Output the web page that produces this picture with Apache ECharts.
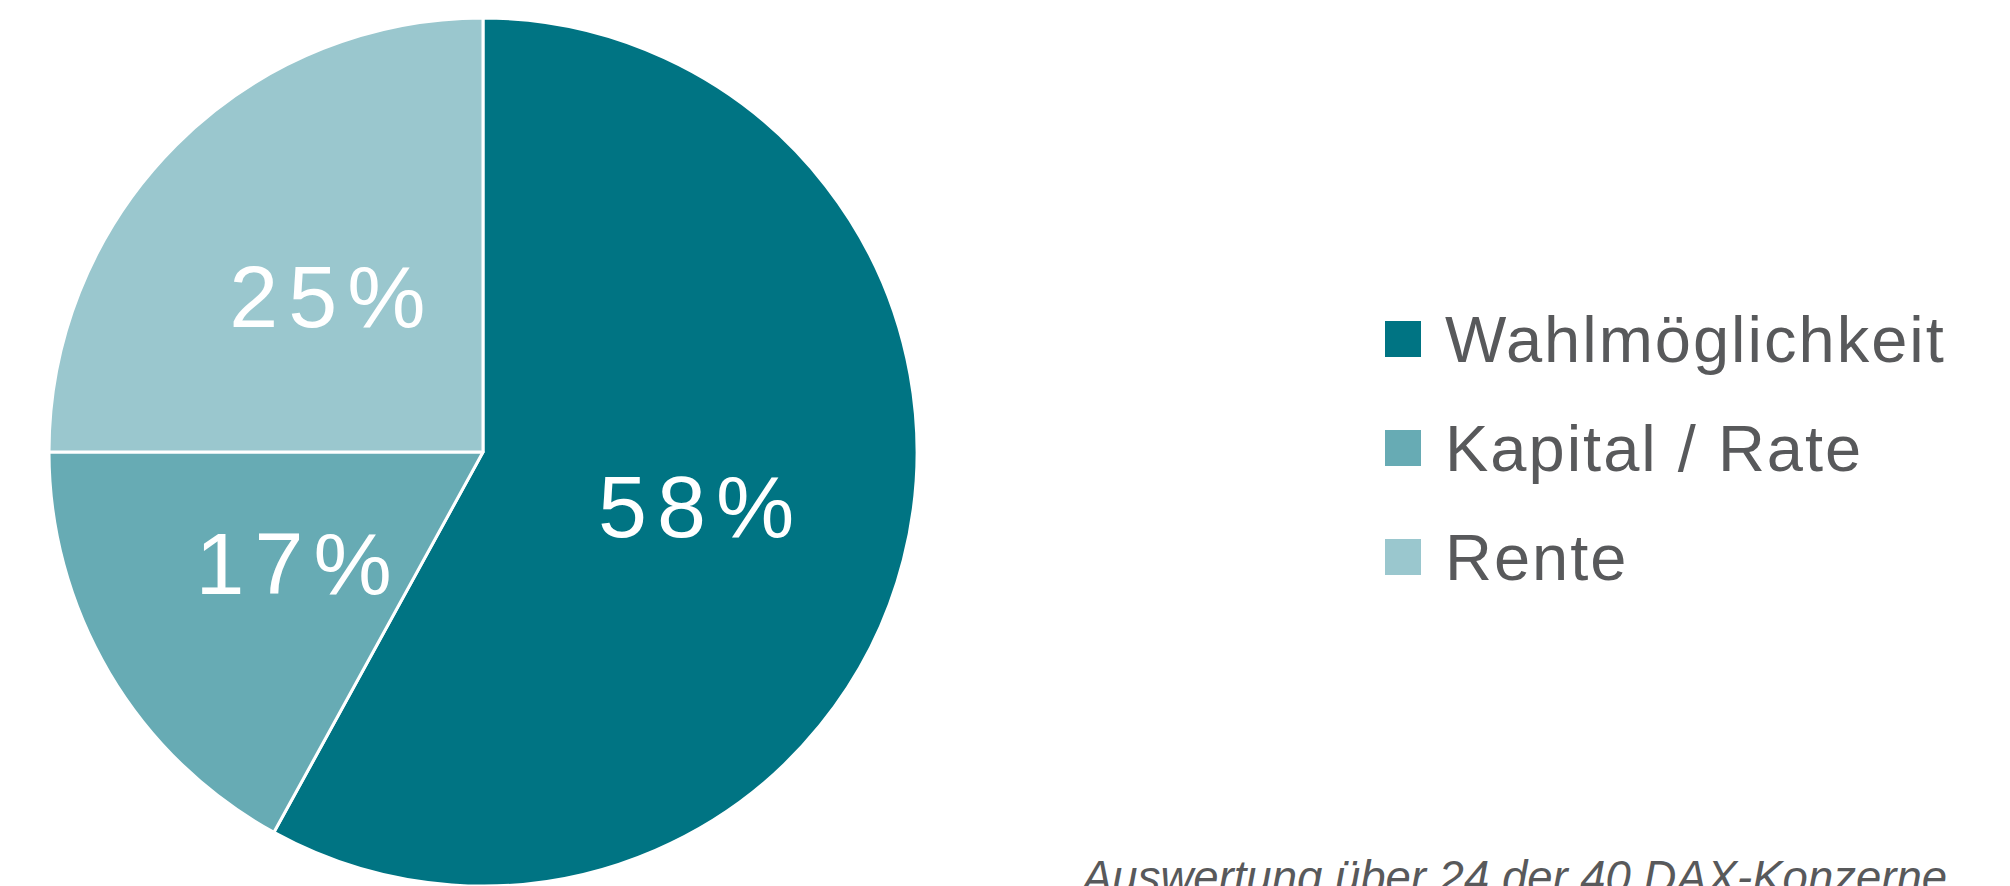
<!DOCTYPE html>
<html>
<head>
<meta charset="utf-8">
<script src="https://cdn.jsdelivr.net/npm/echarts@6/dist/echarts.min.js"></script>
<style>
  html, body { margin: 0; padding: 0; background: #ffffff; }
  #chart { width: 2010px; height: 886px; }
  /* tracking for the slice percentages and the legend entries */
  #chart text[style*="88px"], #chart text[font-size="88"], #chart text[font-size="88px"] { letter-spacing: 10px; }
  #chart text[style*="65px"], #chart text[font-size="65"], #chart text[font-size="65px"] { letter-spacing: 2px; }
</style>
</head>
<body>
<div id="chart"></div>
<script>
// Shares of payout forms in company pension plans
const categories = ['Wahlmöglichkeit', 'Kapital / Rate', 'Rente'];
const shares = [58, 17, 25];
const sliceColors = ['#007483', '#67abb4', '#9ac7ce'];
const footnote = 'Auswertung über 24 der 40 DAX-Konzerne';

const FONT = '"Liberation Sans", Arial, Helvetica, sans-serif';

const chart = echarts.init(document.getElementById('chart'), null, { renderer: 'svg' });

chart.setOption({
  animation: false,
  backgroundColor: '#ffffff',
  color: sliceColors,
  title: {
    text: footnote,
    left: 1082,
    top: 854,
    padding: 0,
    textStyle: {
      fontFamily: FONT,
      fontSize: 45.5,
      fontStyle: 'italic',
      fontWeight: 'normal',
      color: '#58595b'
    }
  },
  legend: {
    orient: 'vertical',
    left: 1383,
    top: 300,
    padding: 0,
    itemWidth: 38,
    itemHeight: 38,
    itemGap: 31,
    icon: 'rect',
    selectedMode: false,
    data: categories,
    textStyle: {
      fontFamily: FONT,
      fontSize: 65,
      lineHeight: 70,
      color: '#58595b',
      padding: [0, 0, 8, 18]
    }
  },
  series: [{
    type: 'pie',
    center: [483, 452],
    radius: 434,
    startAngle: 90,
    clockwise: true,
    silent: true,
    itemStyle: { borderColor: '#ffffff', borderWidth: 3 },
    label: {
      show: true,
      position: 'inside',
      formatter: '{c}%',
      fontFamily: FONT,
      fontSize: 88,
      color: '#ffffff',
      padding: [28, 0, 0, 10]
    },
    labelLine: { show: false },
    data: categories.map((name, i) => ({ name, value: shares[i] }))
  }]
});
</script>
</body>
</html>
